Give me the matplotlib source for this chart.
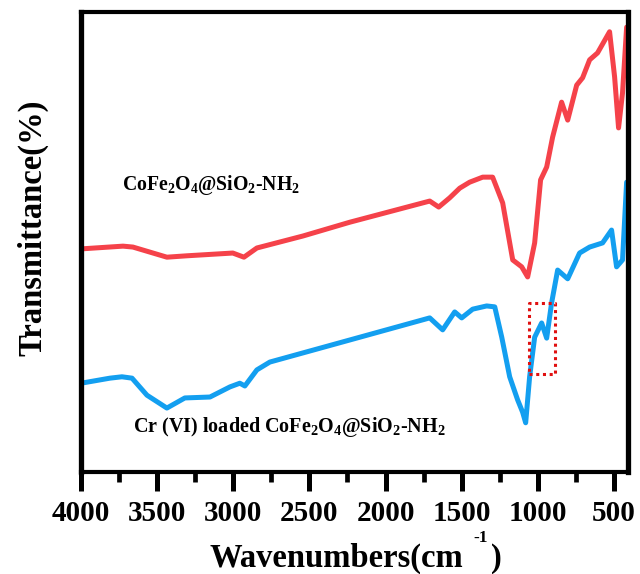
import matplotlib
matplotlib.use("Agg")
import matplotlib.pyplot as plt
from matplotlib.ticker import MultipleLocator, NullLocator

plt.rcParams['font.family'] = ['Liberation Serif', 'DejaVu Serif']
plt.rcParams['font.weight'] = 'bold'
plt.rcParams['mathtext.fontset'] = 'custom'
plt.rcParams['mathtext.rm'] = 'Liberation Serif:bold'
plt.rcParams['mathtext.it'] = 'Liberation Serif:italic:bold'
plt.rcParams['mathtext.bf'] = 'Liberation Serif:bold'
plt.rcParams['mathtext.default'] = 'rm'

# Wavenumbers (cm^-1) and transmittance (arbitrary units)
red_wn = [4000, 3724, 3659, 3436, 3305, 3003, 2930, 2845, 2543, 2235, 1710, 1651,
          1579, 1513, 1448, 1362, 1297, 1231, 1165, 1106, 1067, 1021, 982, 942,
          903, 844, 804, 745, 706, 660, 608, 529, 496, 470, 444, 417]
red_t = [48.5, 49.1, 48.9, 46.7, 47.0, 47.6, 46.7, 48.7, 51.3, 54.3, 58.9, 57.6,
         59.6, 61.7, 63.0, 64.1, 64.1, 58.5, 46.1, 44.6, 42.4, 49.8, 63.5, 66.3,
         72.8, 80.4, 76.5, 84.1, 85.7, 89.6, 91.1, 95.7, 85.9, 74.8, 82.4, 96.7]

blue_wn = [4000, 3810, 3731, 3665, 3567, 3436, 3318, 3153, 3022, 2957, 2924, 2845,
           2760, 2235, 1710, 1625, 1546, 1500, 1428, 1336, 1283, 1237, 1185, 1133,
           1100, 1080, 1054, 1021, 975, 942, 910, 870, 804, 726, 660, 575, 516,
           483, 444, 417]
blue_t = [19.3, 20.4, 20.7, 20.4, 16.7, 13.9, 16.1, 16.3, 18.5, 19.3, 18.7, 22.2,
          23.9, 28.7, 33.5, 30.9, 34.8, 33.5, 35.4, 36.1, 35.9, 29.3, 20.7, 15.7,
          13.0, 10.7, 20.7, 29.3, 32.4, 29.1, 36.7, 43.9, 42.0, 47.6, 48.9, 49.8,
          52.6, 44.6, 46.1, 63.0]

red_label = "CoFe$_2$O$_4$@SiO$_2$-NH$_2$"
blue_label = "Cr (VI) loaded CoFe$_2$O$_4$@SiO$_2$-NH$_2$"
box_wn = [1060, 890]
box_t = [21.3, 36.7]

fig = plt.figure(figsize=(6.4, 5.74), dpi=100)
ax = fig.add_axes([81/640, 1-472/574, (628-81)/640, (472-12)/574])

ax.plot(red_wn, red_t, color='#f5424a', lw=3.6, solid_joinstyle='round', solid_capstyle='round')
ax.plot(blue_wn, blue_t, color='#139ff0', lw=3.6, solid_joinstyle='round', solid_capstyle='round')

ax.plot([box_wn[0], box_wn[1], box_wn[1], box_wn[0], box_wn[0]],
        [box_t[0], box_t[0], box_t[1], box_t[1], box_t[0]],
        color='#e01010', lw=2.2, ls=(0, (1, 1.2)))

ax.set_xlim(4000, 408)
ax.set_ylim(0, 100)
ax.xaxis.set_major_locator(MultipleLocator(500))
ax.xaxis.set_minor_locator(MultipleLocator(250))
ax.yaxis.set_major_locator(NullLocator())
ax.yaxis.set_minor_locator(NullLocator())
ax.tick_params(axis='x', which='major', direction='out', length=14, width=3.6, pad=6,
               labelsize=21)
ax.tick_params(axis='x', which='minor', direction='out', length=7.5, width=3.4)
for lab in ax.get_xticklabels():
    lab.set_fontweight('bold')
for side in ['left', 'right']:
    ax.spines[side].set_linewidth(3.8)
for side in ['top', 'bottom']:
    ax.spines[side].set_linewidth(3.0)

fig.text(122/640, 1-185/574, red_label, fontsize=14.2, fontweight='bold',
         va='center', ha='left')
fig.text(133/640, 1-427/574, blue_label, fontsize=14.5,
         fontweight='bold', va='center', ha='left')

fig.text(33/640, 1-228/574, "Transmittance(%)", rotation=90, fontsize=23.5,
         fontweight='bold', ha='center', va='center')
fig.text(463/640, 1-558/574, "Wavenumbers(cm", fontsize=23.5, fontweight='bold',
         ha='right', va='center')
fig.text(496/640, 1-558/574, ")", fontsize=23.5, fontweight='bold',
         ha='center', va='center')
fig.text(481/640, 1-538/574, "-1", fontsize=12.5, fontweight='bold', ha='center', va='center')

fig.savefig("out.png", dpi=100)
